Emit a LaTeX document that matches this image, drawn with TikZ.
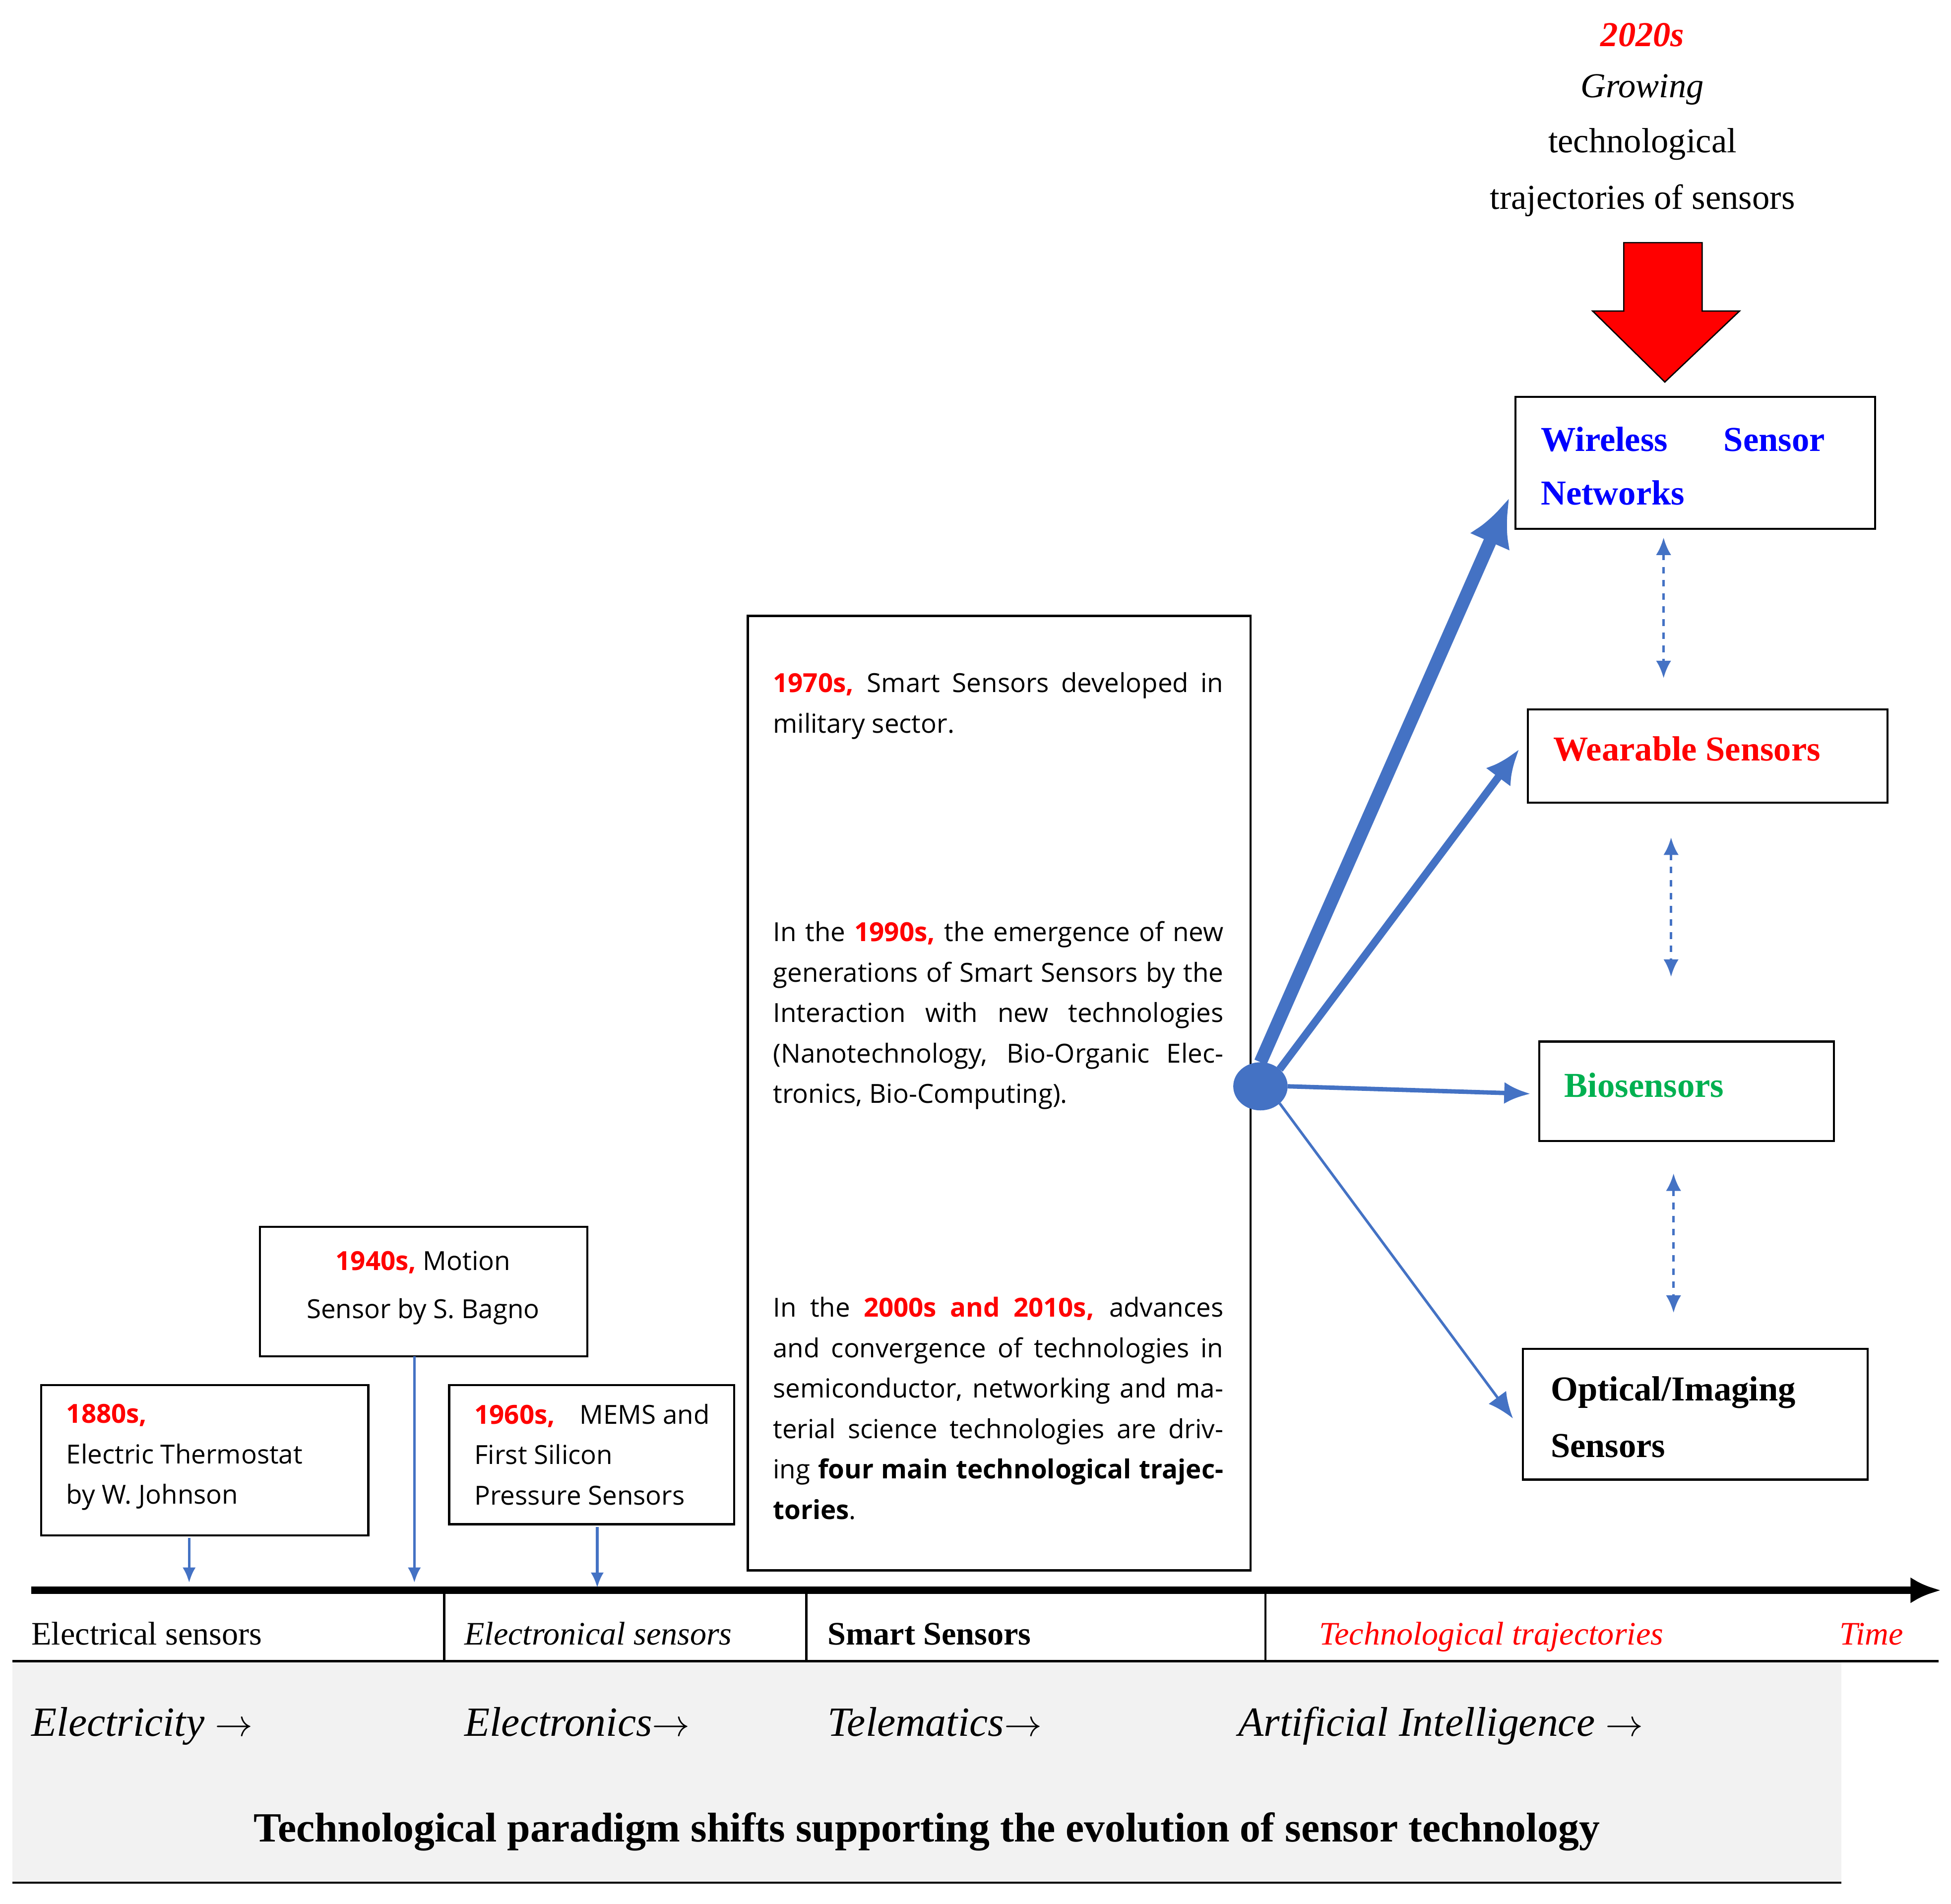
\documentclass[tikz,border=0pt]{standalone}
\usepackage{fontspec}
\setmainfont{Liberation Serif}
\newfontfamily\boxfont{Open Sans}
\usetikzlibrary{arrows.meta,shapes.geometric}
\definecolor{ablue}{RGB}{68,114,196}
\definecolor{tred}{RGB}{255,0,0}
\definecolor{tgreen}{RGB}{0,176,80}
\definecolor{tblue}{RGB}{0,0,255}
\definecolor{greybg}{RGB}{242,242,242}
\tikzset{
 box/.style={draw=black,line width=1pt,inner sep=0pt},
 bt/.style={font=\boxfont\fontsize{12}{18.5}\selectfont,align=left,anchor=north west,inner sep=0pt},
 down/.style={ablue,line width=1.2pt,-{Latex[length=7pt,width=6pt]}},
 rl/.style={font=\fontsize{16}{20}\selectfont\bfseries,anchor=west,inner sep=0pt},
 dd/.style={ablue,line width=1.2pt,dashed,{Latex[length=8pt,width=7pt]}-{Latex[length=8pt,width=7pt]}},
 traj/.style={ablue,-{Latex[length=12pt,width=10pt]}},
 row1/.style={font=\fontsize{15}{18}\selectfont,anchor=base west,inner sep=0pt},
 row2/.style={font=\fontsize{19}{22}\selectfont\itshape,anchor=base west,inner sep=0pt},
}
\newcommand{\rd}[1]{\textcolor{tred}{\bfseries #1}}
\begin{document}
\begin{tikzpicture}[x=0.02cm,y=-0.02cm]
\useasboundingbox (0,0) rectangle (1568,1530);
% bottom band
\fill[greybg] (10,1335) rectangle (1480,1513);
\draw[line width=1pt] (10,1335) -- (1558,1335);
\draw[line width=1pt] (10,1513) -- (1480,1513);
\foreach \xx in {357,648,1017} \draw[line width=1pt] (\xx,1278) -- (\xx,1335);
\coordinate (ts) at (25,1278); \coordinate (te) at (1560,1278);
\draw[line width=3.5pt,-{Latex[length=14pt,width=12pt]}] (ts) -- (te);
\node[row1] (l1) at (25,1322) {Electrical sensors};
\node[row1,font=\fontsize{15}{18}\selectfont\itshape] (l2) at (373,1322) {Electronical sensors};
\node[row1,font=\fontsize{15}{18}\selectfont\bfseries] (l3) at (665,1322) {Smart Sensors};
\node[row1,font=\fontsize{15}{18}\selectfont\itshape,text=tred] (l4) at (1060,1322) {Technological trajectories};
\node[row1,font=\fontsize{15}{18}\selectfont\itshape,text=tred] (l5) at (1478,1322) {Time};
\node[row2] (m1) at (25,1395) {Electricity $\rightarrow$};
\node[row2] (m2) at (373,1395) {Electronics$\rightarrow$};
\node[row2] (m3) at (665,1395) {Telematics$\rightarrow$};
\node[row2] (m4) at (995,1395) {Artificial Intelligence $\rightarrow$};
\node[font=\fontsize{19}{22}\selectfont\bfseries,inner sep=0pt] (ttl) at (745,1472) {Technological paradigm shifts supporting the evolution of sensor technology};
% small boxes
\draw[box] (33,1113) rectangle (296,1234);
\node[bt] (b1) at (53,1128) {\rd{1880s,}\\Electric Thermostat\\by W. Johnson};
\coordinate (a1s) at (152,1236); \coordinate (a1e) at (152,1272);
\draw[down] (a1s) -- (a1e);
\draw[box] (209,986) rectangle (472,1090);
\node[bt,anchor=north,align=center,font=\boxfont\fontsize{12}{22}\selectfont] (b2) at (340,1005) {\rd{1940s,} Motion\\Sensor by S. Bagno};
\coordinate (a2s) at (333,1090); \coordinate (a2e) at (333,1272);
\draw[down] (a2s) -- (a2e);
\draw[box] (361,1113) rectangle (590,1225);
\begin{scope}
\clip (361,1113) rectangle (590,1222);
\node[bt,text width=3.78cm,align=justify] (b3) at (381,1128) {\rd{1960s,} \hfill MEMS and First Silicon \\ Pressure Sensors};
\end{scope}
\coordinate (a3s) at (480,1227); \coordinate (a3e) at (480,1276);
\draw[down] (a3s) -- (a3e);
% big box
\draw[box] (601,495) rectangle (1005,1262);
\node[bt,text width=7.24cm,align=justify] (p1) at (621,540) {\rd{1970s,} Smart Sensors developed in military sector.};
\node[bt,text width=7.24cm,align=justify] (p2) at (621,740) {In the \rd{1990s,} the emergence of new generations of Smart Sensors by the Interaction with new technologies (Nanotechnology, Bio-Organic Electronics, Bio-Computing).};
\node[bt,text width=7.24cm,align=justify] (p3) at (621,1042) {In the \rd{2000s and 2010s,} advances and convergence of technologies in semiconductor, networking and material science technologies are driving \textbf{four main technological trajectories}.};
% right boxes
\draw[box] (1218,319) rectangle (1507,425);
\node[rl,text=tblue] (w1) at (1238,353) {Wireless \hspace{1.1em} Sensor};
\node[rl,text=tblue] (w2) at (1238,396) {Networks};
\coordinate (wsn) at (1213,400);
\draw[box] (1228,570) rectangle (1517,645);
\node[rl,text=tred] (ws) at (1248,602) {Wearable Sensors};
\coordinate (wea) at (1221,602);
\draw[box] (1237,837) rectangle (1474,917);
\node[rl,text=tgreen] (bs) at (1257,872) {Biosensors};
\coordinate (bio) at (1230,879);
\draw[box] (1224,1084) rectangle (1501,1189);
\node[rl] (o1) at (1246,1119) {Optical/Imaging};
\node[rl] (o2) at (1246,1162) {Sensors};
\coordinate (opt) at (1216,1140);
% hub
\node[ellipse,fill=ablue,draw=ablue,minimum width=0.86cm,minimum height=0.76cm,inner sep=0pt] (hub) at (1013,873) {};
\draw[traj,line width=6pt,-{Latex[length=22pt,width=20pt]}] (hub.north) -- (wsn);
\draw[traj,line width=3.5pt,-{Latex[length=16pt,width=14pt]}] (hub.north east) -- (wea);
\draw[traj,line width=2pt] (hub.east) -- (bio);
\draw[traj,line width=1.2pt] (hub.south east) -- (opt);
\coordinate (d1a) at (1337,432); \coordinate (d1b) at (1337,545);
\coordinate (d2a) at (1343,673); \coordinate (d2b) at (1343,785);
\coordinate (d3a) at (1345,943); \coordinate (d3b) at (1345,1055);
\draw[dd] (d1a) -- (d1b);
\draw[dd] (d2a) -- (d2b);
\draw[dd] (d3a) -- (d3b);
% top
\node[font=\fontsize{16}{20}\selectfont\bfseries\itshape,text=tred] (t1) at (1320,28) {2020s};
\node[font=\fontsize{16}{20}\selectfont\itshape] (t2) at (1320,72) {Growing};
\node[font=\fontsize{16}{20}\selectfont] (t3) at (1320,116) {technological};
\node[font=\fontsize{16}{20}\selectfont] (t4) at (1320,161) {trajectories of sensors};
\draw[fill=tred,draw=black,line width=0.6pt] (1305,195) -- (1368,195) -- (1368,250) -- (1398,250) -- (1338,307) -- (1280,250) -- (1305,250) -- cycle;
\end{tikzpicture}
\end{document}
